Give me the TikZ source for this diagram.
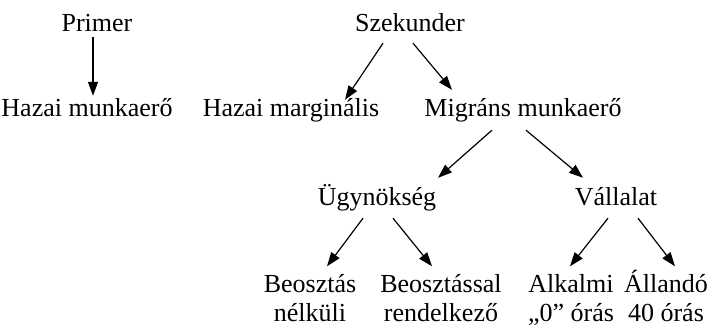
\documentclass[tikz,border=0pt]{standalone}
\usepackage{fontspec}
\setmainfont{Liberation Serif}
\usetikzlibrary{arrows.meta}
\begin{document}
\begin{tikzpicture}[x=1pt,y=-1pt,
  lbl/.style={inner sep=0pt, text height=17pt, text depth=6pt, anchor=base, font=\fontsize{26}{28}\selectfont},
  two/.style={inner sep=0pt, align=center, anchor=base, font=\fontsize{26}{28.5}\selectfont},
  arr/.style={-{Triangle[length=14pt,width=10pt]}, line width=1.2pt}]
\useasboundingbox (0,0) rectangle (712,327);
\node[lbl] (p) at (97,31) {Primer};
\node[lbl] (h) at (87,116) {Hazai munkaerő};
\node[lbl] (s) at (410,31) {Szekunder};
\node[lbl] (hm) at (291,116) {Hazai marginális};
\node[lbl] (m) at (523,116) {Migráns munkaerő};
\node[lbl] (u) at (377,205) {Ügynökség};
\node[lbl] (v) at (616,205) {Vállalat};
\node[two] (b1) at (310,321) {\rule{0pt}{23pt}Beosztás\\nélküli};
\node[two] (b2) at (441,321) {\rule{0pt}{23pt}Beosztással\\rendelkező};
\node[two] (b3) at (571,321) {\rule{0pt}{23pt}Alkalmi\\„0” órás};
\node[two] (b4) at (666,321) {\rule{0pt}{23pt}Állandó\\40 órás};
\draw[arr] ([xshift=-4pt]p.south) -- ([xshift=6pt,yshift=3pt]h.north);
\draw[arr] ([xshift=-27pt,yshift=-6pt]s.south) -- ([xshift=54pt,yshift=-1pt]hm.north);
\draw[arr] ([xshift=3pt,yshift=-6pt]s.south) -- ([xshift=-71pt,yshift=9pt]m.north);
\draw[arr] ([xshift=-31pt,yshift=-8pt]m.south) -- ([xshift=61pt,yshift=10pt]u.north);
\draw[arr] ([xshift=3pt,yshift=-8pt]m.south) -- ([xshift=-33pt,yshift=10pt]v.north);
\draw[arr] ([xshift=-14pt,yshift=-7pt]u.south) -- ([xshift=17pt,yshift=3pt]b1.north);
\draw[arr] ([xshift=16pt,yshift=-7pt]u.south) -- ([xshift=-9pt,yshift=3pt]b2.north);
\draw[arr] ([xshift=-8pt,yshift=-7pt]v.south) -- ([xshift=-1pt,yshift=3pt]b3.north);
\draw[arr] ([xshift=22pt,yshift=-7pt]v.south) -- ([xshift=9pt,yshift=3pt]b4.north);
\end{tikzpicture}
\end{document}
